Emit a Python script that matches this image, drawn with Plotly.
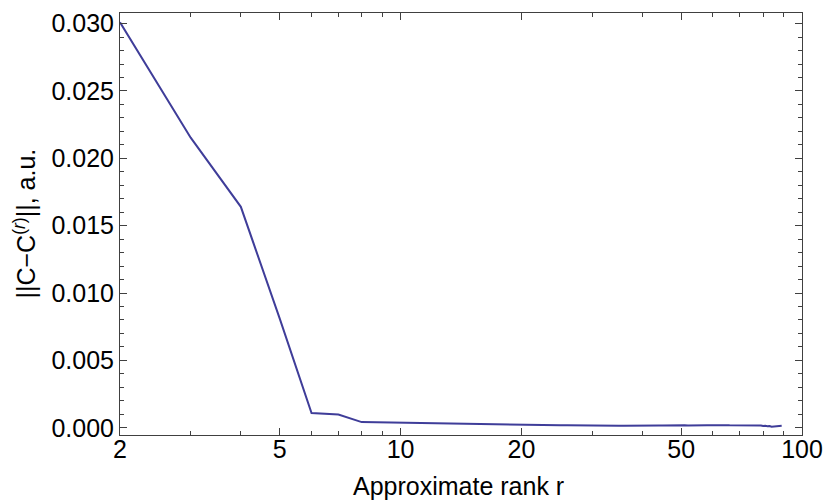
import math
import plotly.graph_objects as go

# Data
rank = list(range(2, 90))
err = [
    0.0301, 0.02153, 0.0164, 0.0081, 0.00110, 0.00099, 0.00042, 0.00039, 0.00037,   # 2..10
    0.00035, 0.00033, 0.00031, 0.00029, 0.00027, 0.00026, 0.00024, 0.00023, 0.00022, 0.00021,  # 11..20
    0.00020, 0.00020, 0.00019, 0.00019, 0.00018, 0.00018, 0.00017, 0.00017, 0.00016, 0.00016,  # 21..30
    0.00015, 0.00015, 0.00015, 0.00015, 0.00015, 0.00015, 0.00016, 0.00015, 0.00016, 0.00016,  # 31..40
    0.00016, 0.00017, 0.00016, 0.00017, 0.00017, 0.00018, 0.00017, 0.00018, 0.00017, 0.00018,  # 41..50
    0.00018, 0.00017, 0.00018, 0.00019, 0.00018, 0.00019, 0.00018, 0.00019, 0.00018, 0.00019,  # 51..60
    0.00018, 0.00019, 0.00018, 0.00018, 0.00019, 0.00018, 0.00018, 0.00019, 0.00018, 0.00018,  # 61..70
    0.00018, 0.00017, 0.00018, 0.00017, 0.00018, 0.00017, 0.00018, 0.00016, 0.00017, 0.00013,  # 71..80
    0.00015, 0.00011, 0.00013, 0.00008, 0.00010, 0.00012, 0.00009, 0.00013, 0.00015,           # 81..89
]

x_major = [2, 5, 10, 20, 50, 100]
x_major_text = ["2", "5", "10", "20", "50", "100"]
x_minor = [3, 4, 6, 7, 8, 9, 30, 40, 60, 70, 80, 90]
y_major = [0.0, 0.005, 0.010, 0.015, 0.020, 0.025, 0.030]
y_major_text = ["0.000", "0.005", "0.010", "0.015", "0.020", "0.025", "0.030"]
y_minor = [i * 0.001 for i in range(0, 31) if i % 5 != 0]

FONT = "Liberation Sans, Arial, sans-serif"
FRAME = "#404040"

fig = go.Figure()
fig.add_trace(go.Scatter(
    x=rank, y=err, mode="lines",
    line=dict(color="#3F3D99", width=2),
    showlegend=False, hoverinfo="skip",
))

fig.update_layout(
    width=832, height=502,
    margin=dict(l=120, r=24, t=9, b=67),
    paper_bgcolor="white", plot_bgcolor="white",
    font=dict(family=FONT, size=25, color="black"),
    xaxis=dict(
        type="log", range=[math.log10(2), 2],
        tickmode="array", tickvals=x_major, ticktext=x_major_text,
        ticks="inside", ticklen=7, tickwidth=1, tickcolor=FRAME,
        ticklabelstandoff=-8,
        minor=dict(tickmode="array", tickvals=x_minor, ticks="inside", ticklen=4,
                   tickwidth=1, tickcolor=FRAME, showgrid=False),
        showline=True, linecolor=FRAME, linewidth=1, mirror="allticks",
        showgrid=False, zeroline=False,
        tickfont=dict(family=FONT, size=25, color="black"),
    ),
    yaxis=dict(
        range=[-0.000537, 0.030787],
        tickmode="array", tickvals=y_major, ticktext=y_major_text,
        ticks="inside", ticklen=7, tickwidth=1, tickcolor=FRAME,
        minor=dict(tickmode="array", tickvals=y_minor, ticks="inside", ticklen=4,
                   tickwidth=1, tickcolor=FRAME, showgrid=False),
        showline=True, linecolor=FRAME, linewidth=1, mirror="allticks",
        showgrid=False, zeroline=False,
        tickfont=dict(family=FONT, size=25, color="black"),
    ),
    annotations=[
        dict(text="Approximate rank r", xref="paper", yref="paper",
             x=0.497, y=-0.122, xanchor="center", yanchor="middle",
             showarrow=False, font=dict(family=FONT, size=25, color="black")),
        dict(text="||C\u2212C<sup>(<i>r</i>)</sup>||, a.u.", xref="paper", yref="paper",
             x=-0.14, y=0.5, xanchor="center", yanchor="middle", textangle=-90,
             showarrow=False, font=dict(family=FONT, size=25, color="black")),
    ],
)

fig.write_html("out.html")
